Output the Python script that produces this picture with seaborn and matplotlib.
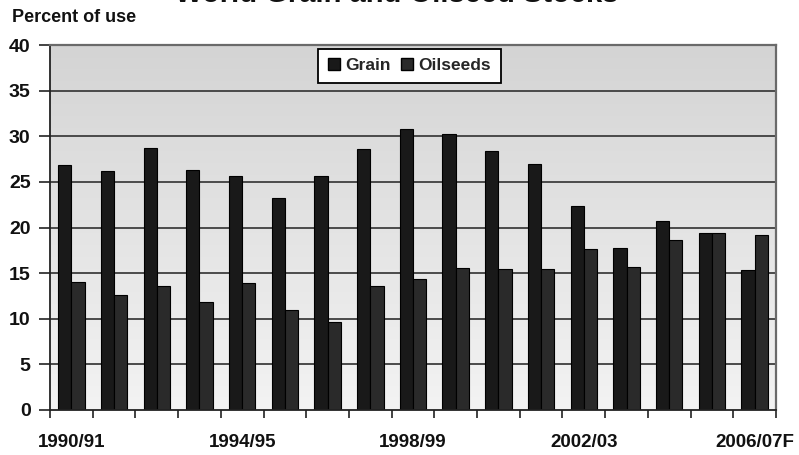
import numpy as np
import pandas as pd
import matplotlib
matplotlib.use("Agg")
import matplotlib.pyplot as plt
import seaborn as sns
from matplotlib.patches import Patch

years = ["1990/91", "1991/92", "1992/93", "1993/94", "1994/95", "1995/96",
         "1996/97", "1997/98", "1998/99", "1999/00", "2000/01", "2001/02",
         "2002/03", "2003/04", "2004/05", "2005/06", "2006/07F"]
grain = [26.8, 26.2, 28.7, 26.3, 25.6, 23.2, 25.6, 28.6, 30.8, 30.3, 28.4,
         27.0, 22.4, 17.8, 20.7, 19.4, 15.3]
oilseeds = [14.0, 12.6, 13.6, 11.8, 13.9, 11.0, 9.6, 13.6, 14.4, 15.6, 15.4,
            15.5, 17.6, 15.7, 18.6, 19.4, 19.2]
series_names = ["Grain", "Oilseeds"]
shown_years = ["1990/91", "1994/95", "1998/99", "2002/03", "2006/07F"]
y_ticks = [0, 5, 10, 15, 20, 25, 30, 35, 40]

df = pd.DataFrame({
    "year": years * 2,
    "series": [series_names[0]] * len(years) + [series_names[1]] * len(years),
    "value": grain + oilseeds,
})

sns.set_theme(style="white")
plt.rcParams["font.family"] = ["Liberation Sans", "DejaVu Sans"]
plt.rcParams["font.weight"] = "bold"

fig = plt.figure(figsize=(7.99, 4.55), dpi=100)
ax = fig.add_axes([50 / 799, 45 / 455, 726 / 799, 365 / 455])

colors = {"Grain": "#191919", "Oilseeds": "#2a2a2a"}
sns.barplot(data=df, x="year", y="value", hue="series", order=years,
            hue_order=series_names, palette=colors, width=0.62, gap=0,
            edgecolor="#000000", linewidth=0.8, saturation=1, ax=ax,
            legend=False, zorder=3)

# shaded plot background, darker at the top
grad = np.linspace(0, 1, 256).reshape(-1, 1)
cmap = matplotlib.colors.LinearSegmentedColormap.from_list(
    "bg", ["#d4d4d4", "#f3f3f3"])
ax.imshow(grad, extent=[0, 1, 0, 1], origin="upper", transform=ax.transAxes,
          aspect="auto", cmap=cmap, zorder=0)

ax.set_xlim(-0.5, len(years) - 0.5)
ax.set_ylim(0, 40)

# horizontal gridlines
for v in y_ticks[1:-1]:
    ax.axhline(v, color="#4a4a4a", lw=1.4, zorder=1)

ax.set_yticks(y_ticks)
ax.set_yticklabels([str(v) for v in y_ticks], fontsize=14, fontweight="bold",
                   color="#111111")
ax.tick_params(axis="y", which="major", direction="out", length=8, width=1.2,
               color="#222222", left=True, pad=6)

pos = [years.index(y) for y in shown_years]
ax.set_xticks(pos)
ax.set_xticklabels(shown_years, fontsize=13.5, fontweight="bold", color="#111111")
ax.set_xticks(np.arange(-0.5, len(years)), minor=True)
ax.tick_params(axis="x", which="major", length=0, pad=17)
ax.tick_params(axis="x", which="minor", direction="out", length=6, width=1.2,
               color="#222222", bottom=True)

ax.set_xlabel("")
ax.set_ylabel("")

for side in ["left", "bottom"]:
    ax.spines[side].set_color("#222222")
    ax.spines[side].set_linewidth(1.3)
for side in ["top", "right"]:
    ax.spines[side].set_color("#6a6a6a")
    ax.spines[side].set_linewidth(1.6)
for s in ax.spines.values():
    s.set_zorder(4)

handles = [Patch(facecolor=colors[n], edgecolor="#000000", label=n)
           for n in series_names]
leg = ax.legend(handles=handles, loc="upper center",
                bbox_to_anchor=(0.495, 0.99), ncol=2, frameon=True,
                fancybox=False, edgecolor="#000000", facecolor="white",
                framealpha=1, handlelength=0.7, handleheight=0.7,
                handletextpad=0.3, columnspacing=0.6, borderpad=0.55,
                borderaxespad=0, prop={"weight": "bold", "size": 12.5})
leg.get_frame().set_linewidth(1.3)
leg.set_zorder(5)

fig.text(12 / 799, 1 - 22 / 455, "Percent of use", fontsize=13,
         fontweight="bold", color="#111111", va="baseline", ha="left")
fig.text(397 / 799, 1 - 1.5 / 455, "World Grain and Oilseed Stocks",
         fontsize=21, fontweight="bold", color="#111111", va="baseline",
         ha="center")

fig.savefig("out.png", dpi=100, facecolor="white")
